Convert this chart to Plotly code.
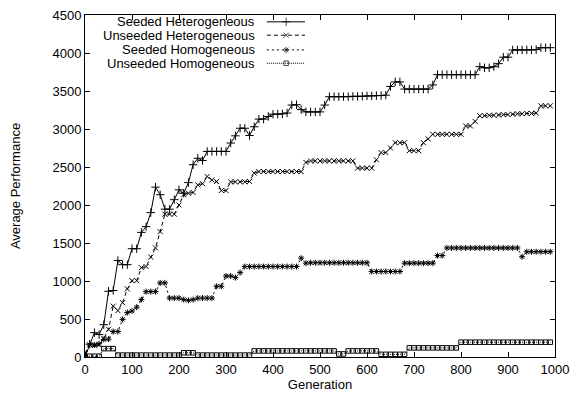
import plotly.graph_objects as go

generations = list(range(0, 1000, 10))

seeded_heterogeneous = [
    0, 170, 320, 295, 425, 865, 875, 1270, 1215, 1215,
    1425, 1425, 1640, 1715, 1900, 2235, 2135, 1945, 1945, 2070,
    2200, 2155, 2295, 2530, 2615, 2585, 2705, 2705, 2705, 2705,
    2705, 2815, 2910, 3010, 3010, 2915, 3030, 3130, 3130, 3165,
    3195, 3195, 3200, 3210, 3315, 3320, 3255, 3225, 3225, 3225,
    3225, 3315, 3425, 3425, 3425, 3425, 3425, 3430, 3430, 3430,
    3435, 3435, 3440, 3440, 3445, 3560, 3620, 3620, 3525, 3525,
    3525, 3525, 3525, 3525, 3580, 3715, 3715, 3715, 3715, 3715,
    3715, 3715, 3715, 3715, 3820, 3805, 3805, 3820, 3860, 3945,
    3945, 4040, 4040, 4040, 4040, 4040, 4045, 4070, 4070, 4070,
]

unseeded_heterogeneous = [
    50, 160, 150, 160, 245, 365, 670, 610, 715, 895,
    1005, 1005, 1175, 1190, 1315, 1435, 1650, 1880, 1880, 1880,
    2000, 2135, 2155, 2165, 2265, 2280, 2375, 2330, 2310, 2190,
    2190, 2305, 2305, 2305, 2305, 2310, 2420, 2440, 2440, 2440,
    2440, 2440, 2440, 2440, 2440, 2440, 2440, 2560, 2580, 2580,
    2580, 2580, 2580, 2580, 2580, 2580, 2580, 2580, 2485, 2485,
    2485, 2485, 2595, 2690, 2690, 2750, 2820, 2820, 2820, 2715,
    2715, 2715, 2820, 2870, 2930, 2930, 2930, 2930, 2930, 2930,
    2930, 3040, 3040, 3100, 3175, 3175, 3180, 3180, 3185, 3190,
    3190, 3195, 3200, 3200, 3205, 3205, 3210, 3305, 3305, 3305,
]

seeded_homogeneous = [
    0, 160, 160, 175, 230, 235, 335, 335, 495, 585,
    605, 655, 755, 860, 860, 860, 975, 975, 775, 775,
    775, 755, 745, 755, 775, 775, 775, 775, 930, 930,
    1065, 1065, 1045, 1110, 1190, 1190, 1190, 1190, 1190, 1190,
    1190, 1190, 1190, 1190, 1190, 1190, 1300, 1235, 1240, 1240,
    1240, 1240, 1240, 1240, 1240, 1240, 1240, 1240, 1240, 1240,
    1240, 1125, 1125, 1125, 1125, 1125, 1125, 1125, 1235, 1235,
    1235, 1235, 1235, 1235, 1235, 1335, 1335, 1435, 1435, 1435,
    1435, 1435, 1435, 1435, 1435, 1435, 1435, 1435, 1435, 1435,
    1435, 1435, 1435, 1320, 1385, 1385, 1385, 1385, 1385, 1385,
]

unseeded_homogeneous = [
    10, 10, 10, 10, 110, 110, 110, 25, 25, 25,
    25, 25, 25, 25, 25, 25, 25, 25, 25, 25,
    25, 55, 55, 55, 25, 25, 25, 25, 25, 25,
    25, 25, 25, 25, 25, 25, 80, 80, 80, 80,
    80, 80, 80, 80, 80, 80, 80, 80, 80, 80,
    80, 80, 80, 80, 40, 40, 80, 80, 80, 80,
    80, 80, 80, 35, 35, 35, 35, 35, 35, 120,
    120, 120, 120, 120, 120, 120, 120, 120, 120, 120,
    195, 195, 195, 195, 195, 195, 195, 195, 195, 195,
    195, 195, 195, 195, 195, 195, 195, 195, 195, 195,
]

series_names = ["Seeded Heterogeneous", "Unseeded Heterogeneous",
                "Seeded Homogeneous", "Unseeded Homogeneous"]
x_ticks = [0, 100, 200, 300, 400, 500, 600, 700, 800, 900, 1000]
y_ticks = [0, 500, 1000, 1500, 2000, 2500, 3000, 3500, 4000, 4500]

styles = [
    dict(dash="solid", symbol="cross-thin-open", size=6),
    dict(dash="4px,3px", symbol="x-thin-open", size=5),
    dict(dash="2px,3px", symbol="asterisk-open", size=5),
    dict(dash="1px,1px", symbol="square-open", size=4.5),
]
all_series = [seeded_heterogeneous, unseeded_heterogeneous,
              seeded_homogeneous, unseeded_homogeneous]

font = dict(family="Liberation Sans, Arial, Helvetica, sans-serif", size=13, color="black")

# gnuplot-style key: right-aligned text, sample line to its right (plot-area fractions)
key_text_x = 0.366
key_sample_x = [0.387, 0.428, 0.468]
key_rows_y = [0.980, 0.941, 0.898, 0.859]

fig = go.Figure()
for name, vals, st, ky in zip(series_names, all_series, styles, key_rows_y):
    fig.add_trace(go.Scatter(
        x=generations, y=vals, name=name, mode="lines+markers",
        line=dict(color="black", width=1, dash=st["dash"]),
        marker=dict(symbol=st["symbol"], size=st["size"], color="black",
                    line=dict(color="black", width=1)),
        showlegend=False,
    ))
    fig.add_trace(go.Scatter(
        x=key_sample_x, y=[ky] * 3, xaxis="x2", yaxis="y2",
        mode="lines+markers", hoverinfo="skip", showlegend=False,
        line=dict(color="black", width=1, dash=st["dash"]),
        marker=dict(symbol=st["symbol"], size=[0, st["size"], 0], color="black",
                    line=dict(color="black", width=1)),
    ))
    fig.add_annotation(x=key_text_x, y=ky, xref="x2", yref="y2", text=name,
                       showarrow=False, xanchor="right", yanchor="middle",
                       font=font)

axis_common = dict(
    showline=True, linecolor="black", linewidth=1, mirror="allticks",
    ticks="inside", ticklen=5, tickcolor="black", tickwidth=1,
    showgrid=False, zeroline=False, tickfont=font, automargin=False,
)
fig.update_layout(
    width=572, height=400,
    margin=dict(l=85, r=17, t=15, b=43),
    paper_bgcolor="white", plot_bgcolor="white",
    font=font,
    xaxis=dict(range=[0, 1000], tickvals=x_ticks,
               title=dict(text="Generation", font=font, standoff=4), **axis_common),
    yaxis=dict(range=[0, 4500], tickvals=y_ticks,
               title=dict(text="Average Performance", font=font, standoff=28), **axis_common),
    xaxis2=dict(range=[0, 1], overlaying="x", visible=False, fixedrange=True),
    yaxis2=dict(range=[0, 1], overlaying="y", visible=False, fixedrange=True),
    showlegend=False,
)
fig.write_html("out.html", config={"displayModeBar": False},
               post_script="document.body.style.margin='0';document.body.style.padding='0';")
